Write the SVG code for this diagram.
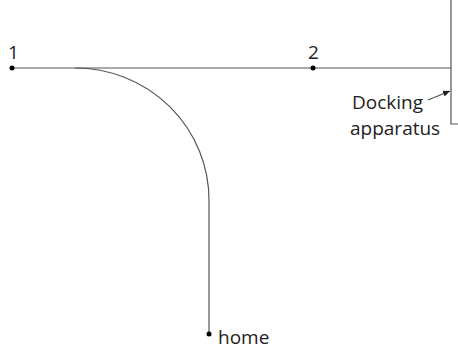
<svg xmlns="http://www.w3.org/2000/svg" width="458" height="350" viewBox="0 0 458 350">
<style>
.ln{fill:none;stroke:#555;stroke-width:1.2}
.dot{fill:#000}
text{font-family:"Open Sans","Liberation Sans",sans-serif;font-size:19px;fill:#222}
</style>
<defs>
<marker id="ah" markerWidth="8" markerHeight="8" refX="7" refY="4" orient="auto" markerUnits="userSpaceOnUse">
<path d="M0,1 L7,4 L0,7 Z" fill="#222"/>
</marker>
</defs>
<rect width="458" height="350" fill="#fff"/>
<g id="connectors">
<path class="ln" d="M12,68 H451"/>
<path class="ln" d="M75,68 A134,132 0 0 1 209,200 V334"/>
<path class="ln" d="M428,100 L450,91" marker-end="url(#ah)" stroke-width="1"/>
</g>
<g id="dock">
<path class="ln" d="M451,0 V124 H458"/>
<text x="352" y="109">Docking</text>
<text x="350" y="135">apparatus</text>
</g>
<g id="p1">
<circle class="dot" cx="12" cy="68" r="2.5"/>
<text x="8" y="59">1</text>
</g>
<g id="p2">
<circle class="dot" cx="313" cy="68" r="2.5"/>
<text x="308" y="59">2</text>
</g>
<g id="home">
<circle class="dot" cx="209" cy="334" r="2.5"/>
<text x="218" y="344">home</text>
</g>
</svg>
